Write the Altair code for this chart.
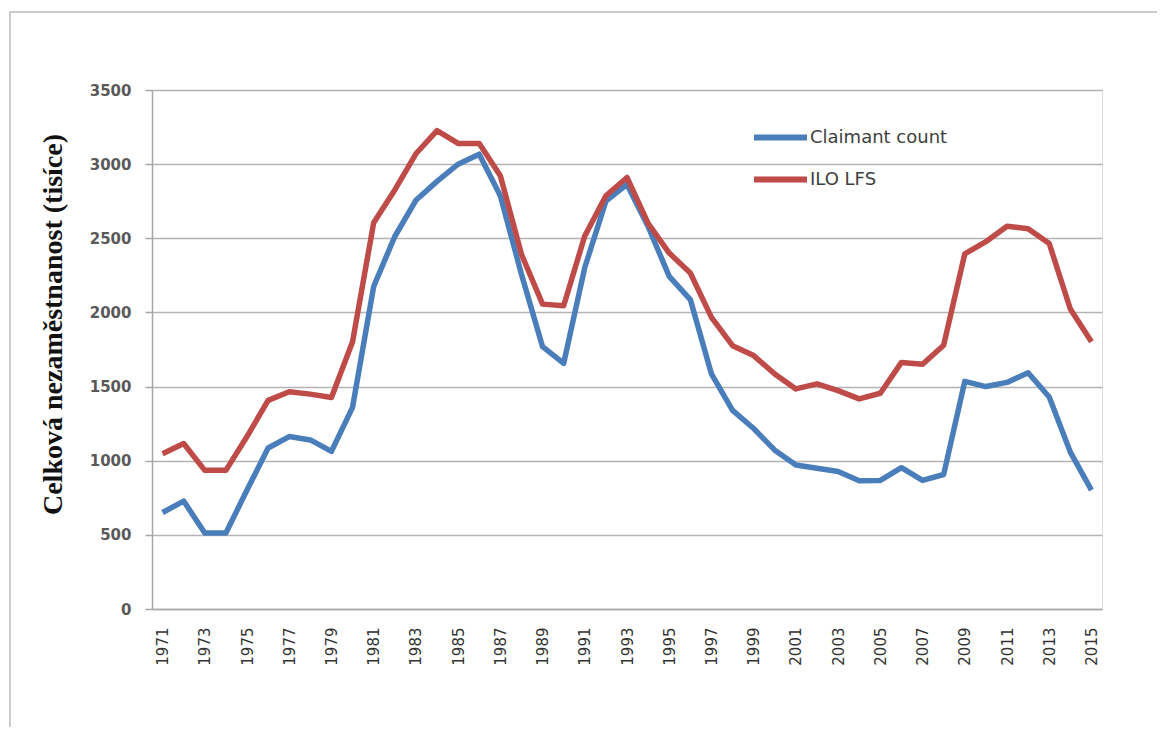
import altair as alt
import pandas as pd

years = list(range(1971, 2016))
claimant = [651, 728, 512, 512, 802, 1086, 1163, 1140, 1063, 1360,
            2175, 2512, 2756, 2884, 3000, 3067, 2787, 2258, 1769, 1657,
            2303, 2751, 2863, 2580, 2243, 2087, 1585, 1340, 1217, 1071,
            971, 949, 927, 865, 867, 953, 867, 907, 1535, 1500,
            1528, 1593, 1430, 1058, 802]
ilo = [1047, 1116, 935, 935, 1163, 1407, 1465, 1449, 1426, 1802,
       2605, 2826, 3070, 3226, 3140, 3140, 2922, 2392, 2056, 2045,
       2516, 2787, 2910, 2600, 2400, 2266, 1967, 1776, 1709, 1585,
       1484, 1518, 1473, 1417, 1455, 1663, 1651, 1779, 2395, 2477,
       2581, 2565, 2465, 2023, 1802]
series_names = ["Claimant count", "ILO LFS"]
series_colors = ["#4A7EBB", "#BE4B48"]
label_years = [y for y in years if y % 2 == 1]
y_ticks = [0, 500, 1000, 1500, 2000, 2500, 3000, 3500]

rows = []
for yr, c, l in zip(years, claimant, ilo):
    rows.append({"year": yr, "series": series_names[0], "value": c})
    rows.append({"year": yr, "series": series_names[1], "value": l})
df = pd.DataFrame(rows)

lines = alt.Chart(df).mark_line(strokeWidth=5.5, strokeJoin="round").encode(
    x=alt.X("year:O", title=None,
            axis=alt.Axis(values=label_years, labelAngle=-90, ticks=False,
                          labelPadding=18, labelFont="DejaVu Sans",
                          labelFontSize=15, labelColor="#333333",
                          domainColor="#a6a6a6", domainWidth=1.5, grid=False)),
    y=alt.Y("value:Q", title="Celková nezaměstnanost (tisíce)",
            scale=alt.Scale(domain=[0, 3500], nice=False),
            axis=alt.Axis(values=y_ticks, format="d", tickSize=7,
                          tickColor="#a6a6a6",
                          tickWidth=1.5, domainColor="#a6a6a6", domainWidth=1.5,
                          gridColor="#b3b3b3", gridWidth=1.5,
                          labelFont="DejaVu Sans", labelFontWeight="bold",
                          labelFontSize=15, labelColor="#595959",
                          labelPadding=14,
                          titleFont="Liberation Serif", titleFontWeight="bold",
                          titleFontSize=28, titleColor="#111111",
                          titleAngle=-90, titleX=-99, titleY=234,
                          titleAlign="center", titleBaseline="middle")),
    color=alt.Color("series:N",
                    scale=alt.Scale(domain=series_names, range=series_colors),
                    legend=alt.Legend(title=None, orient="none",
                                      legendX=599, legendY=18,
                                      symbolType="stroke", symbolSize=2809,
                                      symbolStrokeWidth=6, labelOffset=0,
                                      labelFont="DejaVu Sans", labelFontSize=18,
                                      labelColor="#404040", rowPadding=0,
                                      padding=0)),
    order=alt.Order("year:O"),
)

frame = alt.Chart(alt.Data(values=[{}])).mark_rect(
    fill=None, stroke="#bdbdbd", strokeWidth=1.5
).encode(
    x=alt.value(-142), x2=alt.value(1030),
    y=alt.value(-78), y2=alt.value(680),
)

chart = alt.layer(frame, lines).properties(
    width=950, height=519,
    autosize=alt.AutoSizeParams(type="none"),
    padding={"left": 144, "top": 82, "right": 55, "bottom": 118},
).configure_view(stroke=None).configure(background="white")

chart.save("out.html", embed_options={"renderer": "svg", "actions": False})
